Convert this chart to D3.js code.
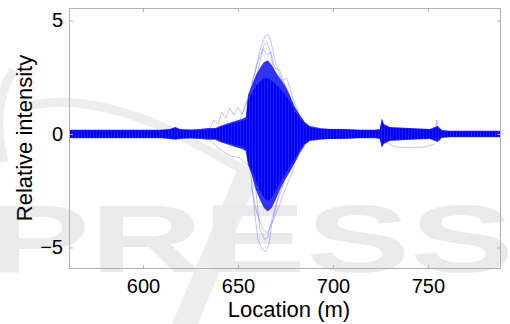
<!DOCTYPE html>
<html>
<head>
<meta charset="utf-8">
<script src="https://cdn.jsdelivr.net/npm/d3@7"></script>
<style>
  body { margin: 0; background: #fff; }
  svg text { font-family: "Liberation Sans", Arial, sans-serif; fill: #000; }
</style>
</head>
<body>
<svg id="chart" width="510" height="324"></svg>
<script>
// axis setup
const xTicks = [600, 650, 700, 750];
const yTicks = [-5, 0, 5];
const xDomain = [561, 788.5];
const yDomain = [-5.95, 5.55];

// outer envelope of the bundle of traces (semi dense)
const spreadLoc = [561, 577, 593, 609, 614, 617, 619.5, 625, 630, 634, 638, 640.5, 645, 648.5, 652, 654.2, 655.2, 657.3, 659.4, 661.5, 663.6, 665.7, 667.8, 669.9, 672, 674.7, 677.3, 680, 682.6, 685.2, 687.8, 693, 698.4, 706, 714, 722, 724.7, 725.7, 726.8, 730, 740.5, 751, 753.6, 755.2, 757.3, 761.5, 788.5];
const spreadTop = [0.19, 0.19, 0.19, 0.19, 0.22, 0.31, 0.22, 0.2, 0.22, 0.26, 0.26, 0.35, 0.48, 0.57, 0.66, 0.75, 1.71, 2.15, 2.59, 2.89, 3.16, 3.25, 3.03, 2.72, 2.46, 2.15, 1.71, 1.18, 0.83, 0.53, 0.35, 0.26, 0.22, 0.22, 0.19, 0.19, 0.22, 0.70, 0.44, 0.31, 0.26, 0.22, 0.31, 0.35, 0.18, 0.14, 0.14];
const spreadBottom = [-0.19, -0.19, -0.19, -0.19, -0.22, -0.26, -0.22, -0.2, -0.22, -0.26, -0.26, -0.35, -0.48, -0.57, -0.66, -0.75, -1.36, -1.80, -2.46, -2.89, -3.25, -3.42, -3.25, -2.89, -2.46, -2.02, -1.67, -1.27, -0.83, -0.48, -0.31, -0.26, -0.22, -0.22, -0.19, -0.19, -0.22, -0.61, -0.44, -0.31, -0.26, -0.22, -0.31, -0.35, -0.18, -0.14, -0.14];

// solid core where the traces overlap completely
const coreLoc = [561, 609, 614, 617, 619.5, 630, 638, 640.5, 645, 648.5, 652, 654.2, 655.2, 657.3, 659.4, 661.5, 663.6, 665.7, 667.8, 669.9, 672, 674.7, 677.3, 680, 682.6, 685.2, 687.8, 693, 722, 724.7, 725.7, 726.8, 730, 751, 755.2, 757.3, 761.5, 788.5];
const coreTop = [0.16, 0.16, 0.2, 0.27, 0.18, 0.18, 0.22, 0.3, 0.42, 0.5, 0.58, 0.65, 1.45, 1.8, 2.1, 2.3, 2.45, 2.45, 2.35, 2.2, 2.0, 1.75, 1.45, 1.0, 0.7, 0.45, 0.3, 0.22, 0.16, 0.18, 0.62, 0.38, 0.27, 0.2, 0.3, 0.15, 0.12, 0.12];
const coreBottom = [-0.16, -0.16, -0.2, -0.22, -0.18, -0.18, -0.22, -0.3, -0.42, -0.5, -0.58, -0.65, -1.2, -1.6, -2.1, -2.5, -2.8, -2.95, -2.8, -2.5, -2.15, -1.8, -1.45, -1.1, -0.7, -0.42, -0.28, -0.22, -0.16, -0.18, -0.55, -0.38, -0.27, -0.2, -0.3, -0.15, -0.12, -0.12];

// single outlying traces, drawn faint
const traceALoc = [651, 655.2, 658.9, 661.5, 664.2, 665.7, 667.3, 669.4, 672.1, 674.7, 678.4, 682.6];
const traceAVal = [0.61, 1.49, 2.72, 3.68, 4.30, 4.39, 4.12, 3.25, 2.59, 1.93, 1.05, 0.39];
const traceBLoc = [656.3, 660.5, 663.6, 665.2, 666.8, 668.9, 673.1, 675.7, 678.4, 682.6];
const traceBVal = [1.05, 2.81, 3.90, 4.04, 3.68, 2.81, 2.37, 2.46, 1.71, 0.70];
const traceCLoc = [653.6, 656.3, 658.9, 660.5, 662.6, 664.7, 666.3, 667.8, 671, 674.7, 680, 685.2];
const traceCVal = [-0.70, -1.36, -3.55, -4.65, -5.09, -5.18, -4.87, -3.99, -2.89, -2.02, -1.14, -0.53];
const traceDLoc = [655.2, 659.4, 661.5, 664.2, 665.7, 667.8, 672.1, 677.3];
const traceDVal = [-0.92, -2.46, -4.21, -4.65, -4.56, -3.77, -2.46, -1.58];
const traceELoc = [634.2, 637.3, 639.4, 641.5, 643.6, 645.7, 647.8, 649.9, 652.1, 654.7];
const traceEVal = [0.04, 0.61, 0.44, 0.96, 0.70, 1.14, 0.83, 1.18, 0.88, 1.49];
const traceFLoc = [635.2, 640.5, 645.7, 651, 654.7];
const traceFVal = [-0.26, -0.70, -0.96, -1.05, -1.36];
const traceGLoc = [727.3, 732.6, 740.5, 748.4, 753.6];
const traceGVal = [-0.35, -0.57, -0.61, -0.57, -0.44];
const traceHLoc = [753.1, 754.2, 754.7, 755.2, 756.3];
const traceHVal = [0, 0.26, 0.61, 0.26, 0];
const traceILoc = [657.3, 660.5, 663.1, 665.2, 667.3, 669.4, 672, 675, 679];
const traceIVal = [2.2, 3.2, 3.75, 3.5, 3.6, 2.9, 2.8, 2.1, 1.3];
const traceJLoc = [657, 660, 663, 665.5, 668, 671, 675, 680];
const traceJVal = [-2.3, -3.5, -4.2, -4.35, -3.9, -3.3, -2.4, -1.4];

const text = { axisX: 'Location (m)', axisY: 'Relative intensity', mark: 'PRESS' };

const margin = { left: 69, right: 9, top: 8, bottom: 55 };
const W = 510, H = 324;
const plotW = W - margin.left - margin.right;
const plotH = H - margin.top - margin.bottom;

const svg = d3.select('#chart');

// pattern giving the vertical striation of the dense bundle
const defs = svg.append('defs');
const pat = defs.append('pattern')
  .attr('id', 'stripes')
  .attr('patternUnits', 'userSpaceOnUse')
  .attr('width', 3).attr('height', 10);
pat.append('rect').attr('width', 3).attr('height', 10).attr('fill', '#0000ff');
pat.append('rect').attr('width', 0.7).attr('height', 10).attr('fill', '#2a2aff');

// watermark in the background
const wm = svg.append('g').attr('class', 'watermark');
wm.append('path')
  .attr('d', 'M14,70 C-4,95 -4,130 4,162')
  .attr('fill', 'none').attr('stroke', '#ededed').attr('stroke-width', 9);
wm.append('path')
  .attr('d', 'M30,106 C60,98 100,104 140,118 S220,158 255,176')
  .attr('fill', 'none').attr('stroke', '#ededed').attr('stroke-width', 9);
wm.append('path')
  .attr('d', 'M238,168 L262,168 L198,324 L172,324 Z')
  .attr('fill', '#ededed');
wm.append('text')
  .attr('x', -14).attr('y', 272)
  .attr('textLength', 528).attr('lengthAdjust', 'spacingAndGlyphs')
  .style('font-size', '96px').style('font-weight', 'bold')
  .style('fill', '#eaeaea')
  .text(text.mark);

const xScale = d3.scaleLinear().domain(xDomain).range([margin.left, margin.left + plotW]);
const yScale = d3.scaleLinear().domain(yDomain).range([margin.top + plotH, margin.top]);

svg.append('clipPath').attr('id', 'clip')
  .append('rect')
  .attr('x', margin.left).attr('y', margin.top)
  .attr('width', plotW).attr('height', plotH);

const plot = svg.append('g').attr('clip-path', 'url(#clip)');

const band = (loc, top, bottom) => loc.map((d, i) => ({ x: d, y0: bottom[i], y1: top[i] }));
const area = d3.area()
  .x(d => xScale(d.x))
  .y0(d => yScale(d.y0))
  .y1(d => yScale(d.y1));

plot.append('path')
  .datum(band(spreadLoc, spreadTop, spreadBottom))
  .attr('fill', '#0000ff').attr('fill-opacity', 0.8)
  .attr('d', area);

plot.append('path')
  .datum(band(coreLoc, coreTop, coreBottom))
  .attr('fill', 'url(#stripes)')
  .attr('d', area);

const line = d3.line().x(d => xScale(d[0])).y(d => yScale(d[1]));
const traces = [
  [traceALoc, traceAVal], [traceBLoc, traceBVal], [traceCLoc, traceCVal], [traceDLoc, traceDVal],
  [traceELoc, traceEVal], [traceFLoc, traceFVal], [traceGLoc, traceGVal], [traceHLoc, traceHVal],
  [traceILoc, traceIVal], [traceJLoc, traceJVal]
];
traces.forEach(([loc, val]) => {
  plot.append('path')
    .datum(loc.map((d, i) => [d, val[i]]))
    .attr('fill', 'none')
    .attr('stroke', '#0000ff').attr('stroke-opacity', 0.3)
    .attr('stroke-width', 0.8)
    .attr('d', line);
});

// box
svg.append('rect')
  .attr('x', margin.left + 0.5).attr('y', margin.top + 0.5)
  .attr('width', plotW - 1).attr('height', plotH - 1)
  .attr('fill', 'none').attr('stroke', '#b0b0b0').attr('stroke-width', 1);

// axes, ticks pointing inward
const styleAxis = g => {
  g.select('.domain').remove();
  g.selectAll('.tick line').attr('stroke', '#b0b0b0');
  g.selectAll('.tick text').style('font-size', '20px')
    .style('font-family', '"Liberation Sans", Arial, sans-serif').attr('fill', '#000');
};

svg.append('g')
  .attr('transform', `translate(0,${margin.top + plotH})`)
  .call(d3.axisBottom(xScale).tickValues(xTicks).tickSize(-4).tickPadding(10))
  .call(styleAxis);
svg.append('g')
  .attr('transform', `translate(0,${margin.top})`)
  .call(d3.axisTop(xScale).tickValues(xTicks).tickSize(-4).tickFormat(''))
  .call(styleAxis);
svg.append('g')
  .attr('transform', `translate(${margin.left},0)`)
  .call(d3.axisLeft(yScale).tickValues(yTicks).tickSize(-4).tickPadding(6))
  .call(styleAxis);
svg.append('g')
  .attr('transform', `translate(${margin.left + plotW},0)`)
  .call(d3.axisRight(yScale).tickValues(yTicks).tickSize(-4).tickFormat(''))
  .call(styleAxis);

// axis labels
svg.append('text')
  .attr('x', margin.left + plotW / 2 + 4).attr('y', 317)
  .attr('text-anchor', 'middle')
  .style('font-size', '22px')
  .text(text.axisX);
svg.append('text')
  .attr('transform', 'rotate(-90)')
  .attr('x', -138).attr('y', 32)
  .attr('text-anchor', 'middle')
  .style('font-size', '22px')
  .text(text.axisY);
</script>
</body>
</html>
